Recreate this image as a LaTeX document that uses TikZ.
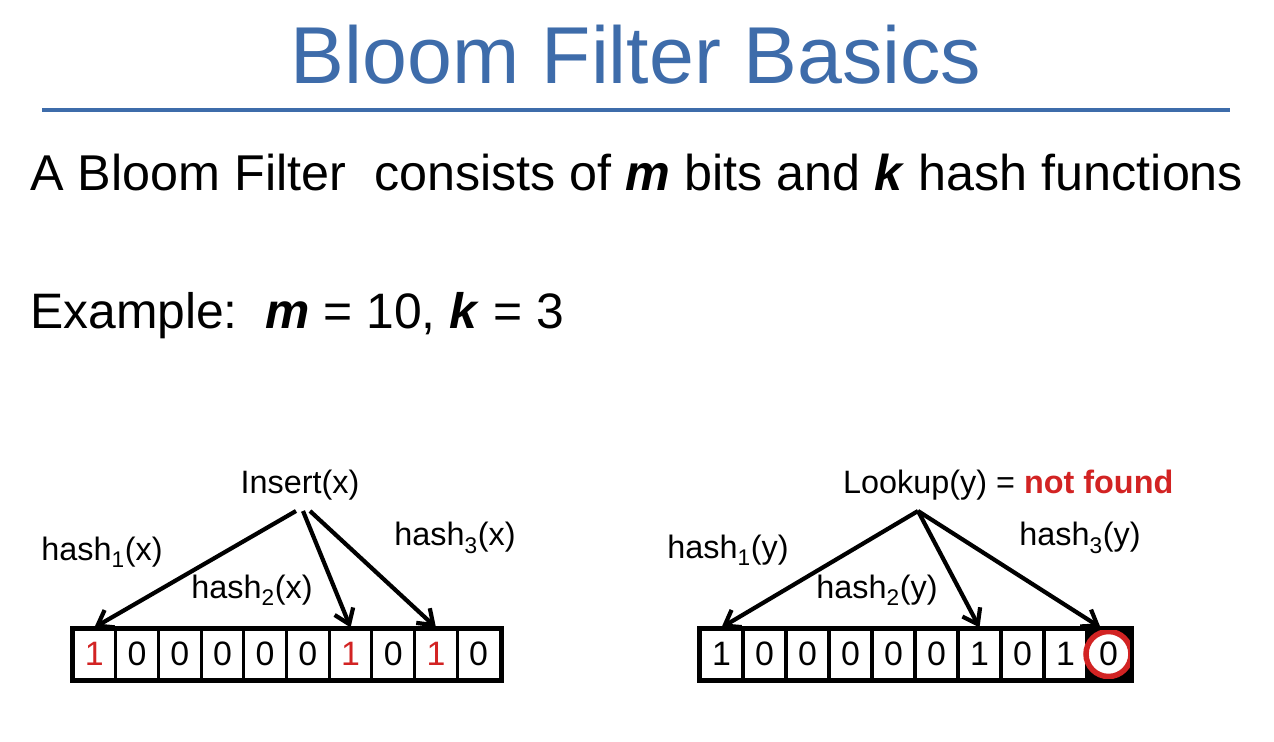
\documentclass[tikz,border=0pt]{standalone}
\usepackage{fontspec}
\setmainfont{Liberation Sans}
\usetikzlibrary{arrows.meta}
\definecolor{titleblue}{RGB}{62,108,170}
\definecolor{bfred}{RGB}{210,35,35}
\tikzset{
  cell/.style={draw=black, line width=3bp, minimum width=42.7bp, minimum height=50bp, inner sep=0pt, font=\fontsize{34}{36}\selectfont, anchor=center},
  hasharrow/.style={line width=4.2bp, -{Straight Barb[length=14bp,width=20bp,line width=4.2bp]}},
  lbl/.style={font=\fontsize{32.5}{34}\selectfont, inner sep=0pt},
}
\begin{document}
\begin{tikzpicture}[x=1bp,y=-1bp]
\useasboundingbox (0,0) rectangle (1274,742);
% title
\node[font=\fontsize{81}{86}\selectfont, text=titleblue, inner sep=0pt] (title) at (636,55) {Bloom Filter Basics};
\draw[titleblue, line width=3bp] (42,110) -- (1230,110);
% body text
\node[anchor=base west, inner sep=0pt, font=\fontsize{50.5}{54}\selectfont] (line1) at (30,190) {A Bloom Filter\ \ consists of \textbf{\textit{m}} bits and \textbf{\textit{k}} hash functions};
\node[anchor=base west, inner sep=0pt, font=\fontsize{50}{54}\selectfont] (line2) at (30,328) {Example:\ \ \textbf{\textit{m}} = 10, \textbf{\textit{k}} = 3};
% left array
\foreach \i/\v/\c in {1/1/bfred,2/0/black,3/0/black,4/0/black,5/0/black,6/0/black,7/1/bfred,8/0/black,9/1/bfred,10/0/black}{
  \node[cell, text=\c] (L\i) at ({73+42.7*(\i-0.5)},654) {\v};
}
\draw[line width=4bp] (L1.north west) rectangle (L10.south east);
% right array
\foreach \i/\v in {1/1,2/0,3/0,4/0,5/0,6/0,7/1,8/0,9/1}{
  \node[cell] (R\i) at ({700+43*(\i-0.5)},654) {\v};
}
\node[cell, fill=black, minimum width=43bp] (R10) at ({700+43*9.5},654) {};
\node[circle, draw=bfred, fill=white, line width=5.5bp, minimum size=45bp, inner sep=0pt, font=\fontsize{34}{36}\selectfont] (circ) at (R10.center) {0};
\draw[line width=4bp] (R1.north west) rectangle (R10.south east);
% insert labels
\node[lbl] (ins) at (300,485) {Insert(x)};
\coordinate (insA) at (296,511);
\coordinate (insB) at (303,511);
\coordinate (insC) at (310,511);
\draw[hasharrow] (insA) -- (L1.north);
\draw[hasharrow] (insB) -- (L7.north);
\draw[hasharrow] (insC) -- (L9.north);
\node[lbl] (h1x) at (102,552) {hash\textsubscript{1}(x)};
\node[lbl] (h2x) at (252,590) {hash\textsubscript{2}(x)};
\node[lbl] (h3x) at (455,538) {hash\textsubscript{3}(x)};
% lookup labels
\node[lbl, anchor=west] (look) at (843,485) {Lookup(y) = \textcolor{bfred}{\textbf{not found}}};
\coordinate (lkA) at (918,511);
\draw[hasharrow] (lkA) -- (R1.north);
\draw[hasharrow] (lkA) -- (R7.north);
\draw[hasharrow] (lkA) -- ([xshift=-8bp]R10.north);
\node[lbl] (h1y) at (728,550) {hash\textsubscript{1}(y)};
\node[lbl] (h2y) at (877,590) {hash\textsubscript{2}(y)};
\node[lbl] (h3y) at (1080,538) {hash\textsubscript{3}(y)};
\end{tikzpicture}
\end{document}
